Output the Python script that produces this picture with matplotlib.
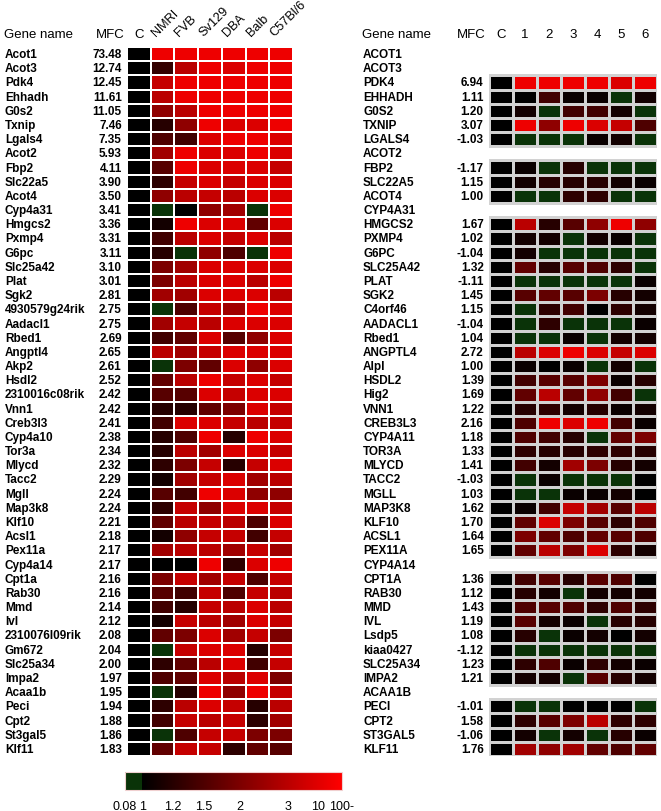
import numpy as np
import matplotlib
matplotlib.use('Agg')
import matplotlib.pyplot as plt
from matplotlib.colors import LinearSegmentedColormap, FuncNorm, to_rgba
from matplotlib.cm import ScalarMappable

plt.rcParams['font.family'] = ['Liberation Sans', 'DejaVu Sans']

# mouse strains (left panel)
mouse_genes = ['Acot1', 'Acot3', 'Pdk4', 'Ehhadh', 'G0s2', 'Txnip', 'Lgals4', 'Acot2', 'Fbp2',
               'Slc22a5', 'Acot4', 'Cyp4a31', 'Hmgcs2', 'Pxmp4', 'G6pc', 'Slc25a42', 'Plat',
               'Sgk2', '4930579g24rik', 'Aadacl1', 'Rbed1', 'Angptl4', 'Akp2', 'Hsdl2',
               '2310016c08rik', 'Vnn1', 'Creb3l3', 'Cyp4a10', 'Tor3a', 'Mlycd', 'Tacc2', 'Mgll',
               'Map3k8', 'Klf10', 'Acsl1', 'Pex11a', 'Cyp4a14', 'Cpt1a', 'Rab30', 'Mmd', 'Ivl',
               '2310076l09rik', 'Gm672', 'Slc25a34', 'Impa2', 'Acaa1b', 'Peci', 'Cpt2',
               'St3gal5', 'Klf11']
mouse_mfc = [73.48, 12.74, 12.45, 11.61, 11.05, 7.46, 7.35, 5.93, 4.11, 3.90, 3.50, 3.41, 3.36,
             3.31, 3.11, 3.10, 3.01, 2.81, 2.75, 2.75, 2.69, 2.65, 2.61, 2.52, 2.42, 2.42, 2.41,
             2.38, 2.34, 2.32, 2.29, 2.24, 2.24, 2.21, 2.18, 2.17, 2.17, 2.16, 2.16, 2.14, 2.12,
             2.08, 2.04, 2.00, 1.97, 1.95, 1.94, 1.88, 1.86, 1.83]
strains = ['NMRI', 'FVB', 'Sv129', 'DBA', 'Balb', 'C57Bl/6']
mouse_fc = [
    [50, 50, 50, 50, 50, 50],
    [1.3, 3, 50, 9, 50, 50],
    [5, 50, 50, 50, 50, 50],
    [3, 50, 50, 50, 50, 50],
    [2.3, 3, 50, 50, 50, 50],
    [1.2, 2.3, 50, 9, 9, 50],
    [1.5, 1.4, 9, 50, 50, 9],
    [2.6, 50, 9, 9, 50, 9],
    [1.6, 50, 9, 9, 9, 5],
    [1.25, 5, 9, 5, 9, 9],
    [2.3, 3, 5, 3, 9, 9],
    [0.5, 1.0, 2.3, 2.6, 0.5, 50],
    [1.1, 50, 9, 9, 1.7, 9],
    [1.4, 3, 9, 5, 9, 3],
    [1.2, 0.5, 2.3, 1.5, 0.5, 50],
    [2.0, 2.6, 9, 9, 9, 9],
    [2.0, 3, 9, 9, 3, 50],
    [2.6, 2.6, 9, 9, 9, 3],
    [0.5, 1.5, 5, 2.6, 50, 9],
    [2.6, 5, 3, 9, 9, 9],
    [1.4, 1.7, 9, 1.6, 2.3, 9],
    [3, 2.6, 5, 9, 9, 9],
    [0.5, 2.0, 1.7, 9, 2.3, 9],
    [1.7, 3, 50, 5, 9, 5],
    [1.6, 1.6, 9, 5, 9, 9],
    [1.2, 1.2, 1.7, 2.0, 9, 5],
    [1.4, 9, 9, 5, 3, 5],
    [1.2, 1.5, 50, 1.2, 50, 9],
    [1.2, 3, 2.6, 9, 9, 5],
    [1.25, 2.0, 5, 1.2, 5, 9],
    [1.1, 2.6, 5, 9, 2.6, 3],
    [1.6, 1.4, 50, 9, 2.3, 2.3],
    [1.25, 5, 2.3, 9, 9, 5],
    [1.7, 3, 5, 3, 1.5, 9],
    [1.1, 2.3, 5, 5, 1.4, 5],
    [2.6, 3, 3, 2.6, 5, 2.6],
    [1.0, 1.0, 50, 1.25, 9, 50],
    [2.0, 5, 2.6, 5, 1.5, 5],
    [1.6, 1.4, 5, 1.5, 5, 3],
    [1.4, 1.2, 5, 3, 9, 3],
    [1.1, 5, 3, 2.6, 9, 5],
    [1.7, 2.0, 9, 2.6, 5, 2.0],
    [0.5, 5, 9, 9, 1.2, 5],
    [1.25, 1.7, 3, 9, 1.4, 5],
    [1.5, 1.7, 9, 3, 9, 2.0],
    [0.5, 1.2, 50, 2.3, 50, 5],
    [1.25, 3, 9, 5, 1.2, 3],
    [1.4, 5, 3, 5, 1.25, 2.6],
    [0.5, 1.5, 5, 5, 2.0, 2.0],
    [1.7, 5, 5, 1.25, 1.7, 1.6],
]

# human samples (right panel)
human_genes = ['ACOT1', 'ACOT3', 'PDK4', 'EHHADH', 'G0S2', 'TXNIP', 'LGALS4', 'ACOT2', 'FBP2',
               'SLC22A5', 'ACOT4', 'CYP4A31', 'HMGCS2', 'PXMP4', 'G6PC', 'SLC25A42', 'PLAT',
               'SGK2', 'C4orf46', 'AADACL1', 'Rbed1', 'ANGPTL4', 'Alpl', 'HSDL2', 'Hig2', 'VNN1',
               'CREB3L3', 'CYP4A11', 'TOR3A', 'MLYCD', 'TACC2', 'MGLL', 'MAP3K8', 'KLF10',
               'ACSL1', 'PEX11A', 'CYP4A14', 'CPT1A', 'RAB30', 'MMD', 'IVL', 'Lsdp5', 'kiaa0427',
               'SLC25A34', 'IMPA2', 'ACAA1B', 'PECI', 'CPT2', 'ST3GAL5', 'KLF11']
human_mfc = [None, None, 6.94, 1.11, 1.20, 3.07, -1.03, None, -1.17, 1.15, 1.00, None, 1.67,
             1.02, -1.04, 1.32, -1.11, 1.45, 1.15, -1.04, 1.04, 2.72, 1.00, 1.39, 1.69, 1.22,
             2.16, 1.18, 1.33, 1.41, -1.03, 1.03, 1.62, 1.70, 1.64, 1.65, None, 1.36, 1.12,
             1.43, 1.19, 1.08, -1.12, 1.23, 1.21, None, -1.01, 1.58, -1.06, 1.76]
samples = ['1', '2', '3', '4', '5', '6']
na = np.nan
human_fc = [
    [na, na, na, na, na, na],
    [na, na, na, na, na, na],
    [50, 50, 50, 50, 9, 50],
    [1.0, 1.4, 1.05, 1.05, 0.5, 1.1],
    [1.1, 0.5, 1.4, 1.4, 1.1, 0.5],
    [50, 2.3, 50, 9, 5, 1.5],
    [0.5, 0.5, 0.5, 1.05, 1.1, 0.5],
    [na, na, na, na, na, na],
    [1.05, 0.5, 1.2, 0.5, 0.5, 0.5],
    [1.1, 1.2, 1.2, 1.2, 1.1, 1.05],
    [0.5, 0.5, 1.25, 1.25, 0.5, 0.5],
    [na, na, na, na, na, na],
    [3, 1.2, 1.6, 2.3, 50, 2.3],
    [1.1, 1.1, 0.5, 1.1, 1.05, 0.5],
    [1.1, 0.5, 0.5, 0.5, 0.5, 0.5],
    [1.7, 1.2, 1.6, 1.5, 1.25, 0.5],
    [0.5, 0.5, 0.5, 0.5, 0.5, 1.05],
    [1.6, 1.7, 1.6, 2.0, 1.2, 1.1],
    [0.5, 1.25, 1.4, 1.0, 1.25, 1.1],
    [0.5, 1.25, 0.5, 0.5, 0.5, 1.05],
    [0.5, 0.5, 1.05, 0.5, 1.1, 1.1],
    [3, 9, 50, 9, 5, 9],
    [1.05, 1.0, 1.05, 0.5, 1.1, 0.5],
    [1.4, 1.6, 1.6, 2.0, 1.05, 1.2],
    [1.7, 3, 1.7, 2.3, 1.4, 0.5],
    [1.2, 1.25, 1.1, 1.2, 1.05, 1.1],
    [1.5, 50, 9, 50, 1.4, 1.05],
    [1.5, 1.4, 1.2, 0.5, 1.7, 2.0],
    [1.25, 1.2, 1.2, 1.25, 1.25, 1.2],
    [1.4, 1.1, 2.6, 2.0, 1.2, 1.1],
    [0.5, 1.05, 0.5, 0.5, 0.5, 1.0],
    [0.5, 0.5, 1.05, 1.05, 1.1, 1.0],
    [1.05, 1.4, 5, 2.6, 1.6, 3],
    [1.7, 9, 2.0, 1.6, 1.25, 1.5],
    [2.0, 1.7, 1.5, 1.7, 1.6, 1.5],
    [1.7, 3, 2.0, 9, 1.25, 1.1],
    [na, na, na, na, na, na],
    [1.4, 1.6, 1.2, 1.6, 1.5, 1.0],
    [1.2, 1.1, 0.5, 1.1, 1.1, 1.1],
    [1.5, 1.6, 1.5, 1.25, 1.5, 1.25],
    [1.6, 1.1, 1.05, 0.5, 1.2, 1.2],
    [1.2, 0.5, 1.05, 1.1, 1.0, 1.1],
    [0.5, 0.5, 0.5, 0.5, 0.5, 0.5],
    [1.25, 1.5, 1.05, 1.25, 1.1, 1.05],
    [1.1, 1.1, 0.5, 1.6, 1.2, 1.1],
    [na, na, na, na, na, na],
    [0.5, 0.5, 1.0, 1.0, 1.0, 0.5],
    [1.25, 1.6, 2.0, 3, 1.25, 1.25],
    [1.1, 0.5, 1.1, 0.5, 1.2, 1.05],
    [2.6, 2.3, 2.6, 1.7, 1.5, 1.7],
]

bar_ticks = [0.08, 1, 1.2, 1.5, 2, 3, 10, 100]
bar_labels = ['0.08', '1', '1.2', '1.5', '2', '3', '10', '100-']
bar_pos = [0.0, 0.083, 0.221, 0.364, 0.53, 0.751, 0.889, 1.0]

green = '#0a3308'
cmap = LinearSegmentedColormap.from_list(
    'gbr', [(0.0, green), (0.076, green), (0.078, 'black'), (0.083, 'black'), (1.0, '#ff0000')],
    N=1024)
cmap.set_bad((1, 1, 1, 0))
norm = FuncNorm((lambda v: np.interp(v, bar_ticks, bar_pos),
                 lambda p: np.interp(p, bar_pos, bar_ticks)), vmin=0.08, vmax=100)

W, H = 661, 812
fig = plt.figure(figsize=(W / 100, H / 100), dpi=100)


def panel(x0, width, genes, mfc, cols, fc, edge, lw, rotate, gx, hx):
    ax = fig.add_axes([x0 / W, 1 - 757 / H, width / W, 709 / H])
    n = len(genes)
    vals = np.array(fc, float)
    control = np.where(np.isnan(vals).all(axis=1), np.nan, 1.0)
    data = np.column_stack([control, vals])
    mesh = ax.pcolormesh(np.arange(8), np.arange(n + 1), np.ma.masked_invalid(data),
                         cmap=cmap, norm=norm, linewidth=lw)
    mesh.set_edgecolor([to_rgba(edge) if np.isfinite(v) else (1, 1, 1, 0)
                        for v in data.ravel()])
    ax.set_xlim(0, 7)
    ax.set_ylim(n, 0)
    ax.axis('off')
    for i, g in enumerate(genes):
        ax.text(gx, i + 0.5, g, ha='left', va='center', fontsize=8.5, fontweight='bold')
        if mfc[i] is not None:
            ax.text(-0.22, i + 0.5, f'{mfc[i]:.2f}', ha='right', va='center',
                    fontsize=8.5, fontweight='bold')
    ax.text(hx, -0.95, 'Gene name', ha='left', va='center', fontsize=9.5)
    ax.text(-0.72, -0.95, 'MFC', ha='center', va='center', fontsize=9.5)
    ax.text(0.5, -0.95, 'C', ha='center', va='center', fontsize=9.5)
    for j, c in enumerate(cols):
        if rotate:
            ax.text(j + 1.3, -0.6, c, rotation=45, rotation_mode='anchor',
                    ha='left', va='bottom', fontsize=9.2)
        else:
            ax.text(j + 1.5, -0.95, c, ha='center', va='center', fontsize=9.5)
    return ax


panel(127, 166, mouse_genes, mouse_mfc, strains, mouse_fc, 'white', 1.4, True, -5.15, -5.2)
panel(489, 168, human_genes, human_mfc, samples, human_fc, '#d2d2d2', 0.8, False, -5.25, -5.3)

cax = fig.add_axes([125 / W, 1 - 791 / H, 217 / W, 18 / H])
cb = fig.colorbar(ScalarMappable(norm=norm, cmap=cmap), cax=cax, orientation='horizontal')
cb.set_ticks(bar_ticks)
cb.set_ticklabels(bar_labels)
cb.ax.tick_params(length=0, labelsize=9, pad=7)
cb.outline.set_edgecolor('#f0d0d0')
cb.outline.set_linewidth(0.8)

fig.savefig('out.png', dpi=100)
